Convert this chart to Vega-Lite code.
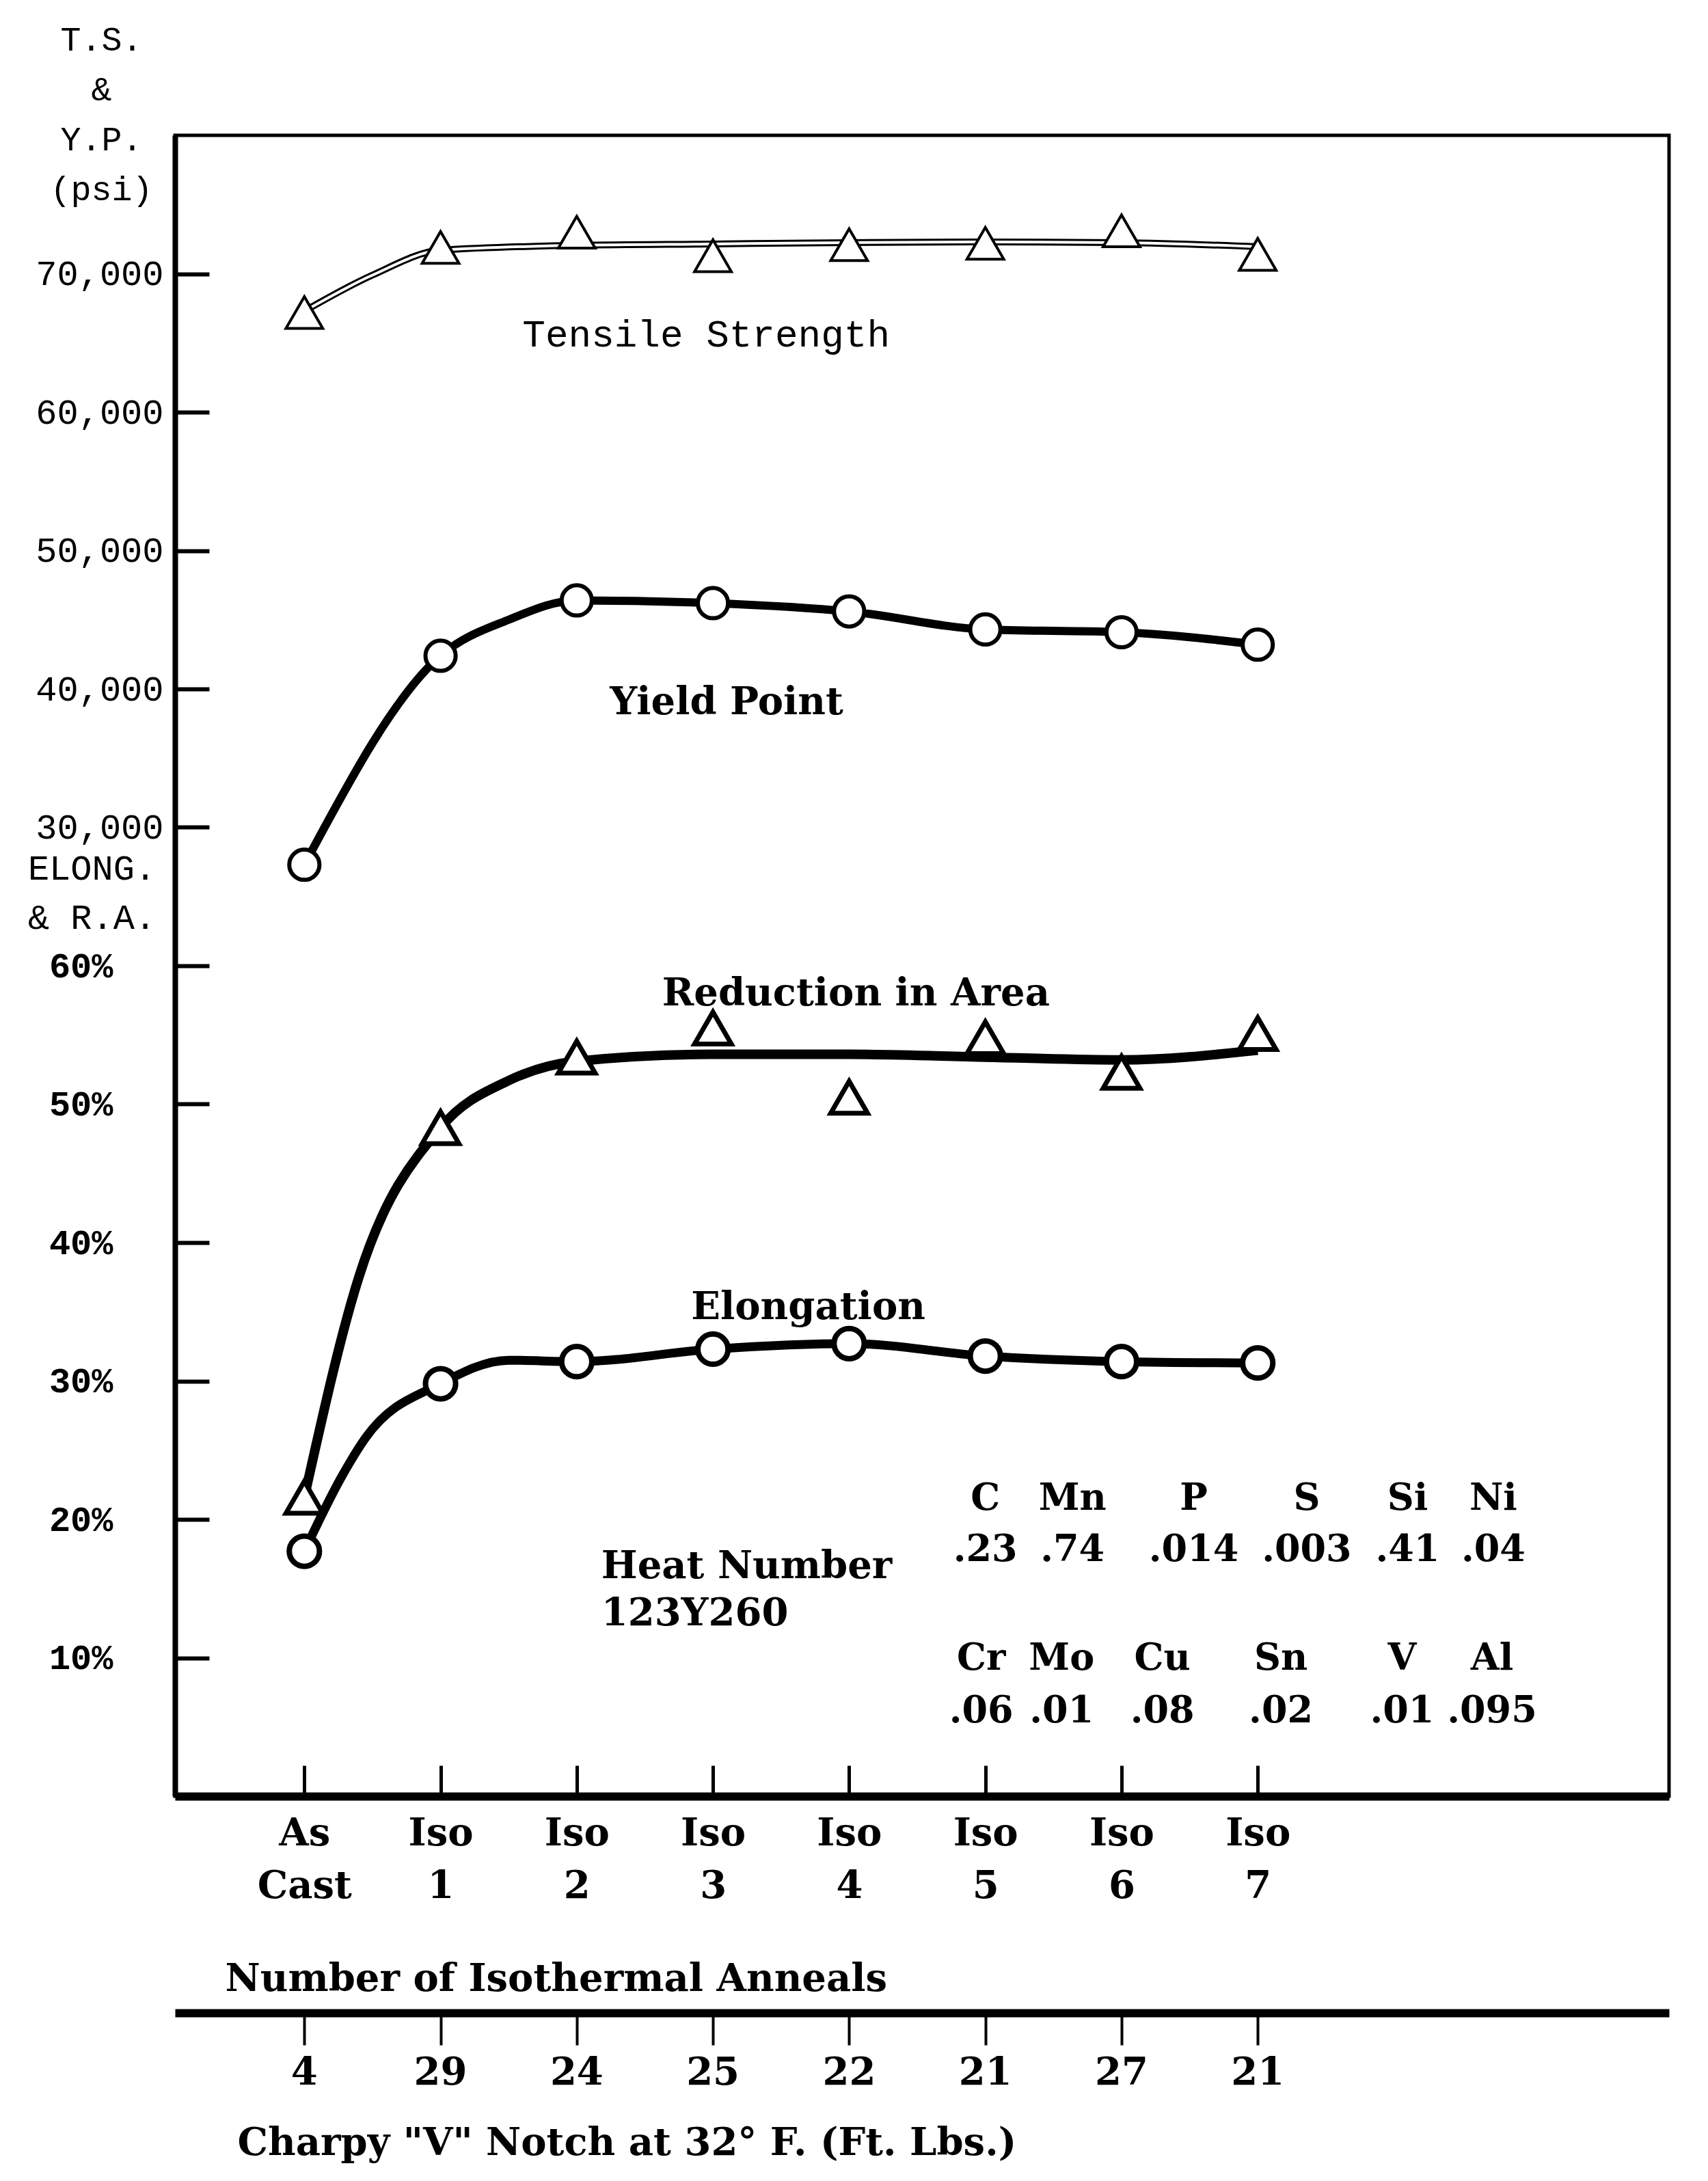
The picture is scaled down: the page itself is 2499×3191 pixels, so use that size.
{
  "$schema": "https://vega.github.io/schema/vega-lite/v6.json",
  "background": "white",
  "padding": {"left": 37, "top": 30, "right": 10, "bottom": 20},
  "config": {"view": {"stroke": null}, "axis": {"grid": false, "labelColor": "black", "titleColor": "black", "tickColor": "black", "domainColor": "black"}, "text": {"font": "DejaVu Serif", "fontWeight": "bold", "fontSize": 54, "align": "center", "baseline": "middle", "color": "black"}},
  "datasets": {
    "tests": [
      {"condition": "As Cast", "anneals": 0, "property": "Tensile Strength", "value": 67200},
      {"condition": "Iso 1", "anneals": 1, "property": "Tensile Strength", "value": 71900},
      {"condition": "Iso 2", "anneals": 2, "property": "Tensile Strength", "value": 73000},
      {"condition": "Iso 3", "anneals": 3, "property": "Tensile Strength", "value": 71300},
      {"condition": "Iso 4", "anneals": 4, "property": "Tensile Strength", "value": 72100},
      {"condition": "Iso 5", "anneals": 5, "property": "Tensile Strength", "value": 72200},
      {"condition": "Iso 6", "anneals": 6, "property": "Tensile Strength", "value": 73100},
      {"condition": "Iso 7", "anneals": 7, "property": "Tensile Strength", "value": 71400},
      {"condition": "As Cast", "anneals": 0, "property": "Yield Point", "value": 27300},
      {"condition": "Iso 1", "anneals": 1, "property": "Yield Point", "value": 42400},
      {"condition": "Iso 2", "anneals": 2, "property": "Yield Point", "value": 46400},
      {"condition": "Iso 3", "anneals": 3, "property": "Yield Point", "value": 46200},
      {"condition": "Iso 4", "anneals": 4, "property": "Yield Point", "value": 45600},
      {"condition": "Iso 5", "anneals": 5, "property": "Yield Point", "value": 44300},
      {"condition": "Iso 6", "anneals": 6, "property": "Yield Point", "value": 44100},
      {"condition": "Iso 7", "anneals": 7, "property": "Yield Point", "value": 43200},
      {"condition": "As Cast", "anneals": 0, "property": "Reduction in Area", "value": 21.6},
      {"condition": "Iso 1", "anneals": 1, "property": "Reduction in Area", "value": 48.3},
      {"condition": "Iso 2", "anneals": 2, "property": "Reduction in Area", "value": 53.4},
      {"condition": "Iso 3", "anneals": 3, "property": "Reduction in Area", "value": 55.5},
      {"condition": "Iso 4", "anneals": 4, "property": "Reduction in Area", "value": 50.5},
      {"condition": "Iso 5", "anneals": 5, "property": "Reduction in Area", "value": 54.8},
      {"condition": "Iso 6", "anneals": 6, "property": "Reduction in Area", "value": 52.3},
      {"condition": "Iso 7", "anneals": 7, "property": "Reduction in Area", "value": 55.1},
      {"condition": "As Cast", "anneals": 0, "property": "Elongation", "value": 17.7},
      {"condition": "Iso 1", "anneals": 1, "property": "Elongation", "value": 29.8},
      {"condition": "Iso 2", "anneals": 2, "property": "Elongation", "value": 31.4},
      {"condition": "Iso 3", "anneals": 3, "property": "Elongation", "value": 32.3},
      {"condition": "Iso 4", "anneals": 4, "property": "Elongation", "value": 32.7},
      {"condition": "Iso 5", "anneals": 5, "property": "Elongation", "value": 31.8},
      {"condition": "Iso 6", "anneals": 6, "property": "Elongation", "value": 31.4},
      {"condition": "Iso 7", "anneals": 7, "property": "Elongation", "value": 31.3}
    ],
    "curves": [
      {"property": "Tensile Strength", "anneals": 0, "value": 67300},
      {"property": "Tensile Strength", "anneals": 0.5, "value": 69900},
      {"property": "Tensile Strength", "anneals": 1, "value": 71700},
      {"property": "Tensile Strength", "anneals": 2, "value": 72050},
      {"property": "Tensile Strength", "anneals": 3, "value": 72150},
      {"property": "Tensile Strength", "anneals": 4, "value": 72250},
      {"property": "Tensile Strength", "anneals": 5, "value": 72300},
      {"property": "Tensile Strength", "anneals": 6, "value": 72250},
      {"property": "Tensile Strength", "anneals": 7, "value": 71950},
      {"property": "Yield Point", "anneals": 0, "value": 27300},
      {"property": "Yield Point", "anneals": 1, "value": 42400},
      {"property": "Yield Point", "anneals": 1.5, "value": 45000},
      {"property": "Yield Point", "anneals": 2, "value": 46400},
      {"property": "Yield Point", "anneals": 3, "value": 46200},
      {"property": "Yield Point", "anneals": 4, "value": 45600},
      {"property": "Yield Point", "anneals": 5, "value": 44300},
      {"property": "Yield Point", "anneals": 6, "value": 44100},
      {"property": "Yield Point", "anneals": 7, "value": 43200},
      {"property": "Reduction in Area", "anneals": 0, "value": 21.6},
      {"property": "Reduction in Area", "anneals": 0.4, "value": 37.5},
      {"property": "Reduction in Area", "anneals": 1, "value": 48.3},
      {"property": "Reduction in Area", "anneals": 1.5, "value": 51.7},
      {"property": "Reduction in Area", "anneals": 2, "value": 53.1},
      {"property": "Reduction in Area", "anneals": 3, "value": 53.6},
      {"property": "Reduction in Area", "anneals": 4, "value": 53.6},
      {"property": "Reduction in Area", "anneals": 5, "value": 53.4},
      {"property": "Reduction in Area", "anneals": 6, "value": 53.2},
      {"property": "Reduction in Area", "anneals": 7, "value": 53.9},
      {"property": "Elongation", "anneals": 0, "value": 17.7},
      {"property": "Elongation", "anneals": 0.28, "value": 23.2},
      {"property": "Elongation", "anneals": 0.45, "value": 25.9},
      {"property": "Elongation", "anneals": 1, "value": 29.8},
      {"property": "Elongation", "anneals": 1.5, "value": 31.5},
      {"property": "Elongation", "anneals": 2, "value": 31.4},
      {"property": "Elongation", "anneals": 3, "value": 32.3},
      {"property": "Elongation", "anneals": 4, "value": 32.7},
      {"property": "Elongation", "anneals": 5, "value": 31.8},
      {"property": "Elongation", "anneals": 6, "value": 31.4},
      {"property": "Elongation", "anneals": 7, "value": 31.3}
    ],
    "charpy": [
      {"condition": "As Cast", "anneals": 0, "charpy_ftlb": 4},
      {"condition": "Iso 1", "anneals": 1, "charpy_ftlb": 29},
      {"condition": "Iso 2", "anneals": 2, "charpy_ftlb": 24},
      {"condition": "Iso 3", "anneals": 3, "charpy_ftlb": 25},
      {"condition": "Iso 4", "anneals": 4, "charpy_ftlb": 22},
      {"condition": "Iso 5", "anneals": 5, "charpy_ftlb": 21},
      {"condition": "Iso 6", "anneals": 6, "charpy_ftlb": 27},
      {"condition": "Iso 7", "anneals": 7, "charpy_ftlb": 21}
    ],
    "composition": [
      {"element": "C", "wt": ".23"},
      {"element": "Mn", "wt": ".74"},
      {"element": "P", "wt": ".014"},
      {"element": "S", "wt": ".003"},
      {"element": "Si", "wt": ".41"},
      {"element": "Ni", "wt": ".04"},
      {"element": "Cr", "wt": ".06"},
      {"element": "Mo", "wt": ".01"},
      {"element": "Cu", "wt": ".08"},
      {"element": "Sn", "wt": ".02"},
      {"element": "V", "wt": ".01"},
      {"element": "Al", "wt": ".095"}
    ]
  },
  "vconcat": [
    {
      "width": 2186,
      "height": 2430,
      "view": {"stroke": "black", "strokeWidth": 5},
      "layer": [
        {
          "data": {"name": "curves"},
          "encoding": {
            "x": {
              "field": "anneals", "type": "quantitative",
              "scale": {"domain": [-0.95, 10.02], "nice": false, "zero": false},
              "axis": {
                "values": [0, 1, 2, 3, 4, 5, 6, 7],
                "labelExpr": "datum.value == 0 ? ['As', 'Cast'] : ['Iso', '' + datum.value]",
                "labelFont": "DejaVu Serif", "labelFontWeight": "bold", "labelFontSize": 56,
                "labelLineHeight": 77, "labelBaseline": "top", "labelPadding": 72,
                "labelFlush": false, "labelOverlap": false,
                "tickSize": -45, "tickWidth": 5,
                "domainWidth": 12,
                "title": "Number of Isothermal Anneals",
                "titleFont": "DejaVu Serif", "titleFontWeight": "bold", "titleFontSize": 56,
                "titleAlign": "left", "titleBaseline": "middle", "titleAngle": 0,
                "titleX": 73, "titleY": 267
              }
            },
            "y": {
              "field": "value", "type": "quantitative",
              "scale": {"domain": [-40000, 80000], "nice": false, "zero": false},
              "axis": {
                "orient": "left",
                "values": [30000, 40000, 50000, 60000, 70000],
                "labelExpr": "format(datum.value, ',')",
                "labelFont": "Liberation Mono", "labelFontSize": 52, "labelPadding": 67, "labelLimit": 500,
                "tickSize": -50, "tickWidth": 6,
                "domainWidth": 8,
                "title": ["T.S.", "&", "Y.P.", "(psi)"],
                "titleFont": "Liberation Mono", "titleFontSize": 50, "titleFontWeight": "normal",
                "titleAngle": 0, "titleAlign": "center", "titleBaseline": "top",
                "titleX": -108, "titleY": -165, "titleLineHeight": 73
              }
            }
          },
          "layer": [
            {
              "transform": [{"filter": "datum.property == 'Tensile Strength'"}],
              "mark": {"type": "line", "interpolate": "monotone", "color": "black", "strokeWidth": 10},
              "encoding": {}
            },
            {
              "transform": [{"filter": "datum.property == 'Tensile Strength'"}],
              "mark": {"type": "line", "interpolate": "monotone", "color": "white", "strokeWidth": 4},
              "encoding": {}
            },
            {
              "transform": [{"filter": "datum.property == 'Yield Point'"}],
              "mark": {"type": "line", "interpolate": "monotone", "color": "black", "strokeWidth": 12},
              "encoding": {}
            },
            {
              "data": {"name": "tests"},
              "transform": [{"filter": "datum.property == 'Tensile Strength'"}],
              "mark": {"type": "point", "shape": "triangle-up", "size": 2900, "filled": true, "fill": "white", "stroke": "black", "strokeWidth": 4, "opacity": 1}
            },
            {
              "data": {"name": "tests"},
              "transform": [{"filter": "datum.property == 'Yield Point'"}],
              "mark": {"type": "point", "shape": "circle", "size": 1950, "filled": true, "fill": "white", "stroke": "black", "strokeWidth": 6, "opacity": 1}
            }
          ]
        },
        {
          "data": {"name": "curves"},
          "encoding": {
            "x": {"field": "anneals", "type": "quantitative"},
            "y": {
              "field": "value", "type": "quantitative",
              "scale": {"domain": [0, 120], "nice": false, "zero": false},
              "axis": {
                "orient": "left",
                "values": [10, 20, 30, 40, 50, 60],
                "labelExpr": "datum.value + '%'",
                "labelFont": "Liberation Mono", "labelFontWeight": "bold", "labelFontSize": 52, "labelPadding": 141, "labelLimit": 500,
                "tickSize": -50, "tickWidth": 6,
                "domain": false,
                "title": ["ELONG.", "& R.A."],
                "titleFont": "Liberation Mono", "titleFontSize": 52, "titleFontWeight": "normal",
                "titleAngle": 0, "titleAlign": "center", "titleBaseline": "top",
                "titleX": -122, "titleY": 1047, "titleLineHeight": 72
              }
            }
          },
          "layer": [
            {
              "transform": [{"filter": "datum.property == 'Reduction in Area'"}],
              "mark": {"type": "line", "interpolate": "monotone", "color": "black", "strokeWidth": 14},
              "encoding": {}
            },
            {
              "transform": [{"filter": "datum.property == 'Elongation'"}],
              "mark": {"type": "line", "interpolate": "monotone", "color": "black", "strokeWidth": 13},
              "encoding": {}
            },
            {
              "data": {"name": "tests"},
              "transform": [{"filter": "datum.property == 'Reduction in Area'"}],
              "mark": {"type": "point", "shape": "triangle-up", "size": 2900, "filled": true, "fill": "white", "stroke": "black", "strokeWidth": 7, "opacity": 1}
            },
            {
              "data": {"name": "tests"},
              "transform": [{"filter": "datum.property == 'Elongation'"}],
              "mark": {"type": "point", "shape": "circle", "size": 1950, "filled": true, "fill": "white", "stroke": "black", "strokeWidth": 8, "opacity": 1}
            }
          ]
        },
        {
          "data": {"name": "composition"},
          "encoding": {
            "y": {"type": "quantitative", "scale": {"domain": [0, 12], "nice": false, "zero": false}, "axis": null}
          },
          "layer": [
            {"transform": [{"filter": "datum.element == 'C'"}], "mark": {"type": "text", "text": "Tensile Strength", "font": "Liberation Mono", "fontWeight": "normal", "fontSize": 56}, "encoding": {"x": {"datum": 2.95, "type": "quantitative"}, "y": {"datum": 10.56, "type": "quantitative"}}},
            {"transform": [{"filter": "datum.element == 'C'"}], "mark": {"type": "text", "text": "Yield Point", "fontSize": 56}, "encoding": {"x": {"datum": 3.1, "type": "quantitative"}, "y": {"datum": 7.9, "type": "quantitative"}}},
            {"transform": [{"filter": "datum.element == 'C'"}], "mark": {"type": "text", "text": "Reduction in Area", "fontSize": 56}, "encoding": {"x": {"datum": 4.05, "type": "quantitative"}, "y": {"datum": 5.8, "type": "quantitative"}}},
            {"transform": [{"filter": "datum.element == 'C'"}], "mark": {"type": "text", "text": "Elongation", "fontSize": 56}, "encoding": {"x": {"datum": 3.7, "type": "quantitative"}, "y": {"datum": 3.53, "type": "quantitative"}}},
            {"transform": [{"filter": "datum.element == 'C'"}], "mark": {"type": "text", "text": ["Heat Number", "123Y260"], "fontSize": 56, "lineHeight": 69, "align": "left"}, "encoding": {"x": {"datum": 2.18, "type": "quantitative"}, "y": {"datum": 1.66, "type": "quantitative"}}},
            {"transform": [{"filter": "datum.element == 'C'"}], "mark": {"type": "text"}, "encoding": {"x": {"datum": 5.0, "type": "quantitative"}, "y": {"datum": 2.148, "type": "quantitative"}, "text": {"field": "element"}}},
            {"transform": [{"filter": "datum.element == 'Mn'"}], "mark": {"type": "text"}, "encoding": {"x": {"datum": 5.64, "type": "quantitative"}, "y": {"datum": 2.148, "type": "quantitative"}, "text": {"field": "element"}}},
            {"transform": [{"filter": "datum.element == 'P'"}], "mark": {"type": "text"}, "encoding": {"x": {"datum": 6.53, "type": "quantitative"}, "y": {"datum": 2.148, "type": "quantitative"}, "text": {"field": "element"}}},
            {"transform": [{"filter": "datum.element == 'S'"}], "mark": {"type": "text"}, "encoding": {"x": {"datum": 7.36, "type": "quantitative"}, "y": {"datum": 2.148, "type": "quantitative"}, "text": {"field": "element"}}},
            {"transform": [{"filter": "datum.element == 'Si'"}], "mark": {"type": "text"}, "encoding": {"x": {"datum": 8.1, "type": "quantitative"}, "y": {"datum": 2.148, "type": "quantitative"}, "text": {"field": "element"}}},
            {"transform": [{"filter": "datum.element == 'Ni'"}], "mark": {"type": "text"}, "encoding": {"x": {"datum": 8.73, "type": "quantitative"}, "y": {"datum": 2.148, "type": "quantitative"}, "text": {"field": "element"}}},
            {"transform": [{"filter": "datum.element == 'C'"}], "mark": {"type": "text"}, "encoding": {"x": {"datum": 5.0, "type": "quantitative"}, "y": {"datum": 1.778, "type": "quantitative"}, "text": {"field": "wt"}}},
            {"transform": [{"filter": "datum.element == 'Mn'"}], "mark": {"type": "text"}, "encoding": {"x": {"datum": 5.64, "type": "quantitative"}, "y": {"datum": 1.778, "type": "quantitative"}, "text": {"field": "wt"}}},
            {"transform": [{"filter": "datum.element == 'P'"}], "mark": {"type": "text"}, "encoding": {"x": {"datum": 6.53, "type": "quantitative"}, "y": {"datum": 1.778, "type": "quantitative"}, "text": {"field": "wt"}}},
            {"transform": [{"filter": "datum.element == 'S'"}], "mark": {"type": "text"}, "encoding": {"x": {"datum": 7.36, "type": "quantitative"}, "y": {"datum": 1.778, "type": "quantitative"}, "text": {"field": "wt"}}},
            {"transform": [{"filter": "datum.element == 'Si'"}], "mark": {"type": "text"}, "encoding": {"x": {"datum": 8.1, "type": "quantitative"}, "y": {"datum": 1.778, "type": "quantitative"}, "text": {"field": "wt"}}},
            {"transform": [{"filter": "datum.element == 'Ni'"}], "mark": {"type": "text"}, "encoding": {"x": {"datum": 8.73, "type": "quantitative"}, "y": {"datum": 1.778, "type": "quantitative"}, "text": {"field": "wt"}}},
            {"transform": [{"filter": "datum.element == 'Cr'"}], "mark": {"type": "text"}, "encoding": {"x": {"datum": 4.97, "type": "quantitative"}, "y": {"datum": 0.993, "type": "quantitative"}, "text": {"field": "element"}}},
            {"transform": [{"filter": "datum.element == 'Mo'"}], "mark": {"type": "text"}, "encoding": {"x": {"datum": 5.56, "type": "quantitative"}, "y": {"datum": 0.993, "type": "quantitative"}, "text": {"field": "element"}}},
            {"transform": [{"filter": "datum.element == 'Cu'"}], "mark": {"type": "text"}, "encoding": {"x": {"datum": 6.3, "type": "quantitative"}, "y": {"datum": 0.993, "type": "quantitative"}, "text": {"field": "element"}}},
            {"transform": [{"filter": "datum.element == 'Sn'"}], "mark": {"type": "text"}, "encoding": {"x": {"datum": 7.17, "type": "quantitative"}, "y": {"datum": 0.993, "type": "quantitative"}, "text": {"field": "element"}}},
            {"transform": [{"filter": "datum.element == 'V'"}], "mark": {"type": "text"}, "encoding": {"x": {"datum": 8.06, "type": "quantitative"}, "y": {"datum": 0.993, "type": "quantitative"}, "text": {"field": "element"}}},
            {"transform": [{"filter": "datum.element == 'Al'"}], "mark": {"type": "text"}, "encoding": {"x": {"datum": 8.72, "type": "quantitative"}, "y": {"datum": 0.993, "type": "quantitative"}, "text": {"field": "element"}}},
            {"transform": [{"filter": "datum.element == 'Cr'"}], "mark": {"type": "text"}, "encoding": {"x": {"datum": 4.97, "type": "quantitative"}, "y": {"datum": 0.612, "type": "quantitative"}, "text": {"field": "wt"}}},
            {"transform": [{"filter": "datum.element == 'Mo'"}], "mark": {"type": "text"}, "encoding": {"x": {"datum": 5.56, "type": "quantitative"}, "y": {"datum": 0.612, "type": "quantitative"}, "text": {"field": "wt"}}},
            {"transform": [{"filter": "datum.element == 'Cu'"}], "mark": {"type": "text"}, "encoding": {"x": {"datum": 6.3, "type": "quantitative"}, "y": {"datum": 0.612, "type": "quantitative"}, "text": {"field": "wt"}}},
            {"transform": [{"filter": "datum.element == 'Sn'"}], "mark": {"type": "text"}, "encoding": {"x": {"datum": 7.17, "type": "quantitative"}, "y": {"datum": 0.612, "type": "quantitative"}, "text": {"field": "wt"}}},
            {"transform": [{"filter": "datum.element == 'V'"}], "mark": {"type": "text"}, "encoding": {"x": {"datum": 8.06, "type": "quantitative"}, "y": {"datum": 0.612, "type": "quantitative"}, "text": {"field": "wt"}}},
            {"transform": [{"filter": "datum.element == 'Al'"}], "mark": {"type": "text"}, "encoding": {"x": {"datum": 8.72, "type": "quantitative"}, "y": {"datum": 0.612, "type": "quantitative"}, "text": {"field": "wt"}}}
          ]
        }
      ],
      "resolve": {"scale": {"y": "independent"}, "axis": {"y": "independent"}}
    },
    {
      "width": 2186,
      "height": 1,
      "data": {"name": "charpy"},
      "mark": {"type": "text", "fontSize": 56, "dy": 88},
      "encoding": {
        "x": {
          "field": "anneals", "type": "quantitative",
          "scale": {"domain": [-0.95, 10.02], "nice": false, "zero": false},
          "axis": {
            "orient": "bottom",
            "values": [0, 1, 2, 3, 4, 5, 6, 7],
            "labels": false,
            "tickSize": 47, "tickWidth": 4,
            "domainWidth": 12,
            "title": "Charpy \"V\" Notch at 32° F. (Ft. Lbs.)",
            "titleFont": "DejaVu Serif", "titleFontWeight": "bold", "titleFontSize": 56,
            "titleAlign": "left", "titleBaseline": "middle", "titleAngle": 0,
            "titleX": 91, "titleY": 190
          }
        },
        "text": {"field": "charpy_ftlb", "type": "quantitative"}
      }
    }
  ],
  "spacing": 17
}
